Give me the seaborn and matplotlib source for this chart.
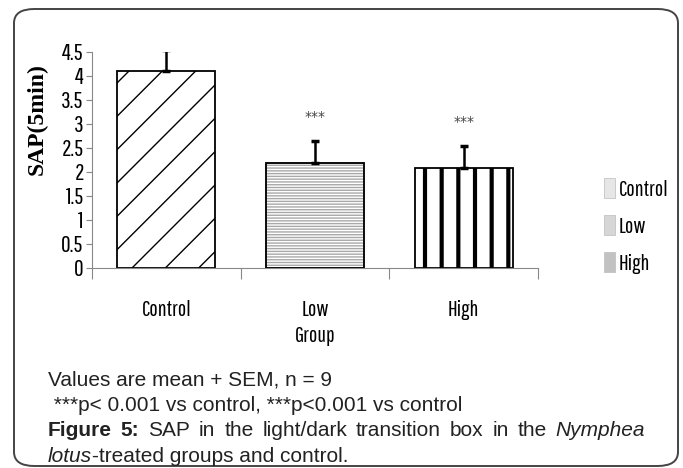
import numpy as np
import pandas as pd
import matplotlib
matplotlib.use("Agg")
import matplotlib.pyplot as plt
import matplotlib.patches as mpatches
from matplotlib import font_manager
import seaborn as sns

# data
groups = ["Control", "Low", "High"]
means = [4.1, 2.19, 2.08]
sems = [0.44, 0.46, 0.46]
stars = ["", "***", "***"]

# pick a narrow font for the chart texts, whichever is installed
installed = set(f.name for f in font_manager.fontManager.ttflist)
narrow = "DejaVu Sans"
for name in ["Pathway Gothic One", "Yanone Kaffeesatz", "Archivo Narrow", "PT Sans Narrow",
             "Roboto Condensed", "Fira Sans Condensed", "Open Sans Condensed", "Oswald"]:
    if name in installed:
        narrow = name
        break

sns.set_theme(style="white")
plt.rcParams["font.family"] = [narrow, "DejaVu Sans"]
plt.rcParams["hatch.linewidth"] = 1.0
plt.rcParams["text.color"] = "black"
plt.rcParams["xtick.color"] = "black"
plt.rcParams["ytick.color"] = "black"
plt.rcParams["axes.labelcolor"] = "black"

fig = plt.figure(figsize=(6.83, 4.68), dpi=100)

# rounded frame round the whole figure
frame = mpatches.FancyBboxPatch((14 / 683, 2 / 468), 664 / 683, 457 / 468,
                                boxstyle="round,pad=0,rounding_size=0.03",
                                transform=fig.transFigure, facecolor="none",
                                edgecolor="#444444", linewidth=1.4, zorder=-1)
fig.patches.append(frame)

ax = fig.add_axes([92 / 683, 1 - 268 / 468, 446 / 683, 216 / 468])
ax.patch.set_alpha(0)

df = pd.DataFrame({"group": groups, "mean": means})
sns.barplot(data=df, x="group", y="mean", ax=ax, width=0.66,
            color="white", edgecolor="black", linewidth=1.3, errorbar=None)

# hatches: diagonal, grey horizontal, thick vertical
hatches = ["/", "------", "|"]
for i, bar in enumerate(ax.patches[:3]):
    bar.set_facecolor("white")
    bar.set_hatch(hatches[i])
    if i == 1:
        bar.set_edgecolor("#a8a8a8")
        outline = mpatches.Rectangle((bar.get_x(), 0), bar.get_width(), bar.get_height(),
                                     fill=False, edgecolor="black", linewidth=1.3, zorder=3)
        ax.add_patch(outline)
    if i == 2:
        try:
            bar.set_hatch_linewidth(3.0)
        except AttributeError:
            pass

xpos = np.arange(len(groups))
ax.errorbar(xpos, means, yerr=[np.zeros(len(sems)), sems], fmt="none",
            ecolor="black", elinewidth=1.8, capsize=2.8, capthick=2.5, zorder=4)

for x, m, s, st in zip(xpos, means, sems, stars):
    if st:
        ax.text(x, m + s + 0.5, st, ha="center", va="center",
                fontsize=10, color="#444444", family="DejaVu Sans")

ax.set_ylim(0, 4.5)
ax.set_xlim(-0.5, 2.5)
ax.set_yticks(np.arange(0, 4.51, 0.5))
ax.set_yticklabels(["0", "0.5", "1", "1.5", "2", "2.5", "3", "3.5", "4", "4.5"])
ax.tick_params(axis="y", length=4, width=0.8, color="#888888", labelsize=17, pad=2, left=True)
ax.tick_params(axis="x", length=0, labelsize=16, pad=23)
ax.set_xticks([-0.5, 0.5, 1.5, 2.5], minor=True)
ax.tick_params(axis="x", which="minor", length=8, width=0.8, color="#888888", bottom=True)

for side in ["top", "right"]:
    ax.spines[side].set_visible(False)
for side in ["left", "bottom"]:
    ax.spines[side].set_color("#888888")
    ax.spines[side].set_linewidth(0.8)

ax.set_xlabel("Group", fontsize=16)
ax.xaxis.set_label_coords(0.5, -0.27)
ax.set_ylabel("SAP(5min)", fontsize=17, fontweight="bold", family="Liberation Serif")
ax.yaxis.set_label_coords(-0.1, 0.69)

# legend with plain grey squares
legend_colors = ["#e6e6e6", "#d6d6d6", "#c2c2c2"]
handles = [mpatches.Patch(facecolor=c, edgecolor="#bbbbbb", linewidth=0.5, label=g)
           for c, g in zip(legend_colors, groups)]
ax.legend(handles=handles, loc="center left", bbox_to_anchor=(1.103, 0.194),
          frameon=False, fontsize=16, handlelength=0.5, handleheight=1.0,
          handletextpad=0.15, labelspacing=0.7)

# caption under the chart
cap = dict(fontsize=15, family="Liberation Sans", color="#222222", va="baseline",
           transform=fig.transFigure)
fig.text(48 / 683, 1 - 385 / 468, "Values are mean + SEM, n = 9", **cap)
fig.text(48 / 683, 1 - 411 / 468, " ***p< 0.001 vs control, ***p<0.001 vs control", **cap)

# justified line: spread the words between the left and right margins
words = [("Figure", "bold", "normal"), ("5:", "bold", "normal"), ("SAP", "normal", "normal"),
         ("in", "normal", "normal"), ("the", "normal", "normal"), ("light/dark", "normal", "normal"),
         ("transition", "normal", "normal"), ("box", "normal", "normal"), ("in", "normal", "normal"),
         ("the", "normal", "normal"), ("Nymphea", "normal", "italic")]
renderer = fig.canvas.get_renderer()
arts = [fig.text(0, 1 - 436 / 468, w, fontweight=fw, style=st, **cap) for w, fw, st in words]
widths = [a.get_window_extent(renderer).width for a in arts]
left, right = 48, 645
gap = (right - left - sum(widths)) / (len(words) - 1)
xcur = left
for a, w in zip(arts, widths):
    a.set_x(xcur / 683)
    xcur += w + gap

t1 = fig.text(48 / 683, 1 - 462 / 468, "lotus", style="italic", **cap)
w1 = t1.get_window_extent(renderer).width
fig.text((48 + w1) / 683, 1 - 462 / 468, "-treated groups and control.", **cap)

fig.savefig("out.png", dpi=100)
